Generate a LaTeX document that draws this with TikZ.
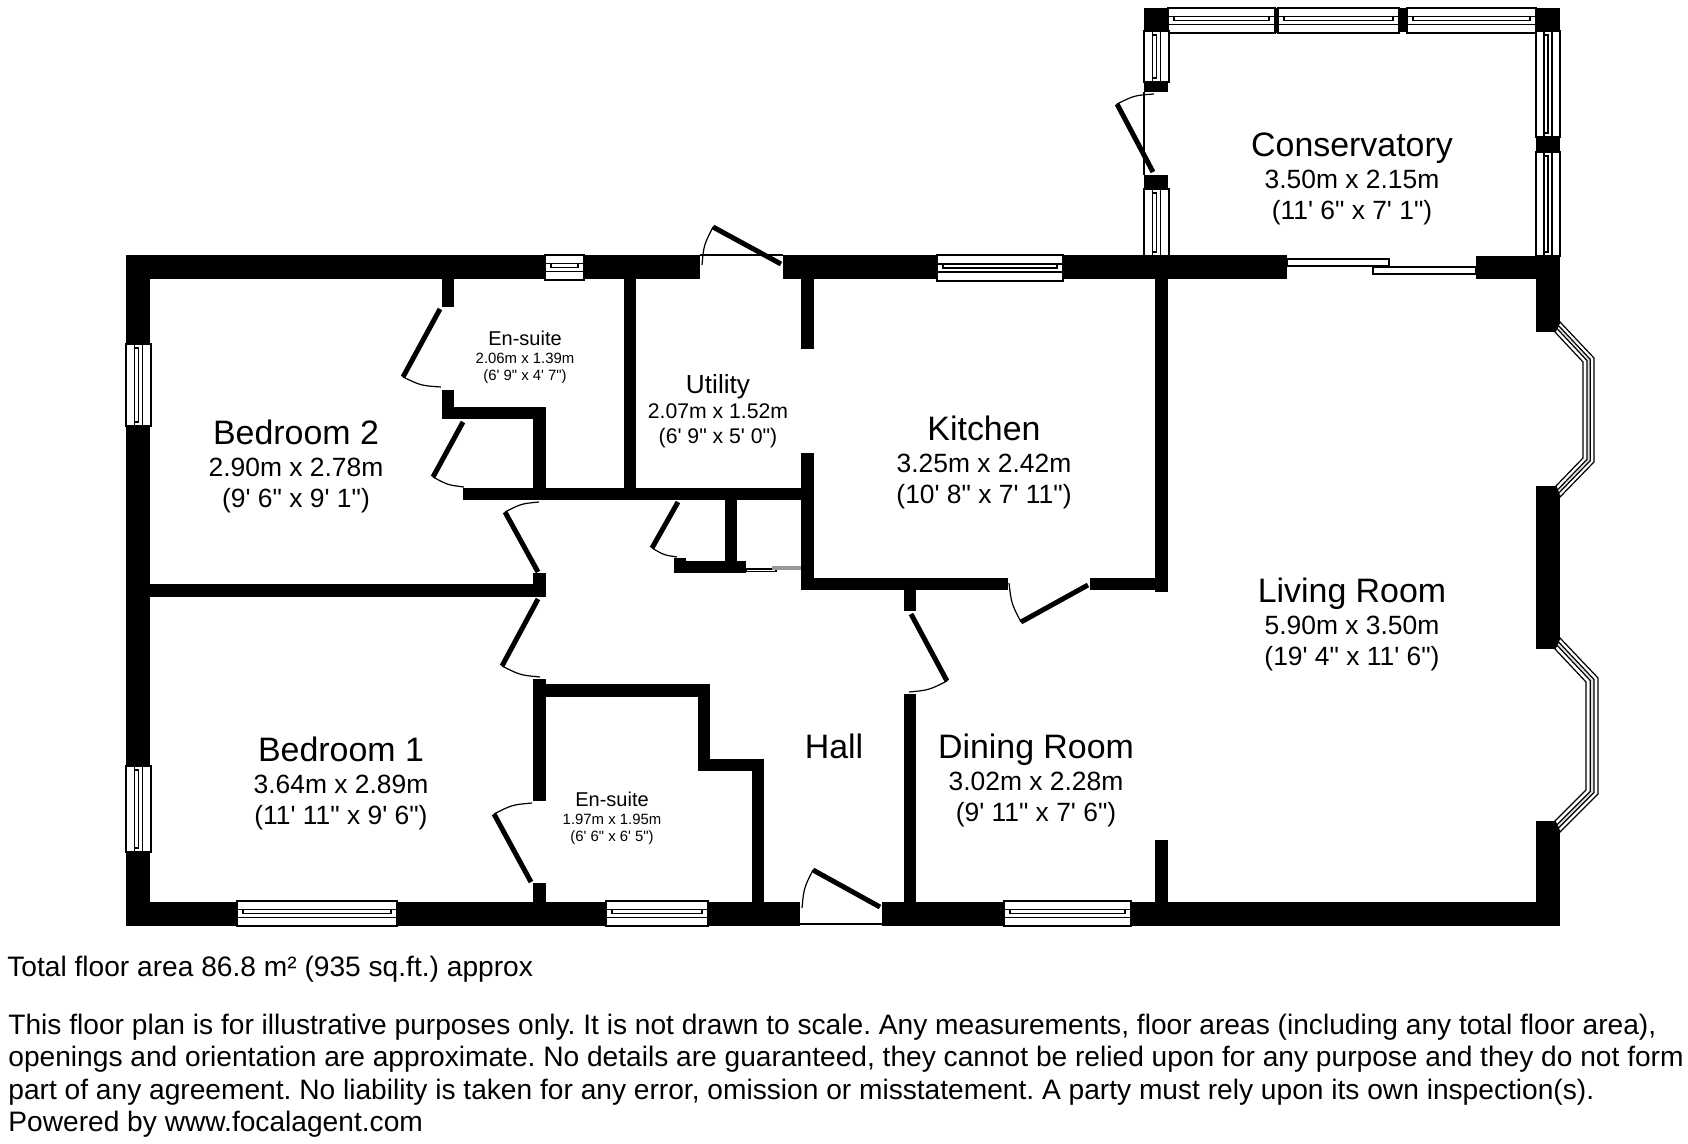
\documentclass[tikz,border=0pt]{standalone}
\usepackage{fontspec}
\usetikzlibrary{calc}
\newfontfamily\planfont{Liberation Sans}
\frenchspacing

\tikzset{
    wallfill/.style={fill=black},
    pane/.style={draw=black,fill=white,line width=.6pt},
    doorleaf/.style={draw=black,line width=2.5pt},
    doorarc/.style={draw=black,line width=.6pt},
    roomtext/.style={inner sep=0pt,anchor=base,font=\planfont\fontsize{#1}{#1}\selectfont},
    footnote/.style={inner sep=0pt,anchor=base west,font=\planfont\fontsize{14.07}{14.07}\selectfont}
}

\newcommand{\hwindow}[4]{
    \pgfmathsetmacro\wmid{(#3+#4)/2}
    \draw[pane] (#1,#3) rectangle (#2,#4);
    \draw[pane] (#1,\wmid-4) rectangle (#2,\wmid+4);
    \draw[pane] (#1+6,\wmid-4) rectangle (#2-6,\wmid);
}
\newcommand{\vwindow}[4]{
    \pgfmathsetmacro\wmid{(#1+#2)/2}
    \draw[pane] (#1,#3) rectangle (#2,#4);
    \draw[pane] (\wmid-4,#3) rectangle (\wmid+4,#4);
    \draw[pane] (\wmid-4,#3+4) rectangle (\wmid,#4-4);
}
\newcommand{\swingdoor}[3]{
    \draw[doorleaf] #1 -- #2;
    \coordinate (chord) at ($#2!.5!#3$);
    \draw[doorarc] #2 .. controls ($#1!1.05!(chord)$) .. #3;
}

\begin{document}
\begin{tikzpicture}[x=.5pt,y=-.5pt]
    \useasboundingbox (0,0) rectangle (1688,1144);

    % walls
    \foreach \xa/\ya/\xb/\yb in {
        126/255/700/279, 783/255/1287/279, 1476/256/1560/279,
        126/255/150/926, 126/902/800/926, 882/902/1560/926,
        1536/256/1560/332, 1536/486/1560/649, 1536/821/1560/926,
        442/279/454/307, 442/390/454/419, 442/407/546/419, 533/407/546/500,
        463/488/801/500, 150/584/546/597, 533/573/546/597,
        533/679/546/801, 546/684/710/697, 698/684/710/771, 698/759/764/771,
        752/759/764/902, 533/883/546/902,
        904/694/916/902, 904/590/916/611,
        801/279/814/349, 801/453/814/590, 801/578/1008/590, 1090/578/1168/590,
        1155/279/1168/592, 624/279/636/488, 1155/840/1168/902,
        725/500/737/561, 674/561/746/573, 674/558/686/561,
        1144/8/1168/31, 1536/8/1560/31, 1275/8/1278/33, 1399/8/1407/32,
        1144/82/1168/92, 1144/175/1168/189, 1536/137/1560/152}
        \fill[wallfill] (\xa,\ya) rectangle (\xb,\yb);

    % windows
    \hwindow{545}{584}{255}{280}
    \hwindow{937}{1063}{255}{281}
    \hwindow{237}{397}{901}{926}
    \hwindow{606}{708}{901}{926}
    \hwindow{1004}{1131}{901}{926}
    \hwindow{1168}{1275}{8}{33}
    \hwindow{1278}{1399}{8}{33}
    \hwindow{1407}{1536}{8}{33}
    \vwindow{126}{151}{344}{426}
    \vwindow{126}{151}{766}{852}
    \vwindow{1144}{1169}{31}{82}
    \vwindow{1144}{1169}{189}{256}
    \vwindow{1536}{1560}{31}{137}
    \vwindow{1536}{1560}{152}{256}

    % bay windows
    \coordinate (bayao) at (1560,322); \coordinate (bayai) at (1555,332);
    \coordinate (baybo) at (1594,358); \coordinate (baybi) at (1583,362);
    \coordinate (bayco) at (1594,462); \coordinate (bayci) at (1583,458);
    \coordinate (baydo) at (1560,497); \coordinate (baydi) at (1556,486);
    \draw[pane] (bayao) -- (baybo) -- (bayco) -- (baydo) -- (baydi) -- (bayci) -- (baybi) -- (bayai) -- cycle;
    \draw[pane,fill=black!12] ($(bayai)!.36!(bayao)$) -- ($(baybi)!.36!(baybo)$) -- ($(bayci)!.36!(bayco)$) -- ($(baydi)!.36!(baydo)$) -- ($(baydi)!.66!(baydo)$) -- ($(bayci)!.66!(bayco)$) -- ($(baybi)!.66!(baybo)$) -- ($(bayai)!.66!(bayao)$) -- cycle;

    \coordinate (baypo) at (1560,638); \coordinate (baypi) at (1555,649);
    \coordinate (bayqo) at (1598,678); \coordinate (bayqi) at (1586,682);
    \coordinate (bayro) at (1598,794); \coordinate (bayri) at (1586,790);
    \coordinate (bayso) at (1560,832); \coordinate (baysi) at (1555,821);
    \draw[pane] (baypo) -- (bayqo) -- (bayro) -- (bayso) -- (baysi) -- (bayri) -- (bayqi) -- (baypi) -- cycle;
    \draw[pane,fill=black!12] ($(baypi)!.36!(baypo)$) -- ($(bayqi)!.36!(bayqo)$) -- ($(bayri)!.36!(bayro)$) -- ($(baysi)!.36!(bayso)$) -- ($(baysi)!.66!(bayso)$) -- ($(bayri)!.66!(bayro)$) -- ($(bayqi)!.66!(bayqo)$) -- ($(baypi)!.66!(baypo)$) -- cycle;

    % sliding doors
    \draw[pane,line width=1.2pt] (1287,259) rectangle (1389,266);
    \draw[pane,line width=1.2pt] (1373,267) rectangle (1476,274);
    \draw[pane] (746,569) rectangle (776,571.5);
    \fill[black!40] (772,566) rectangle (801,569.7);

    % door swings
    \swingdoor{(440,309)}{(403,377)}{(441,387)}
    \swingdoor{(463,422)}{(433,477)}{(464,487)}
    \swingdoor{(538,572)}{(505,512)}{(539,502)}
    \swingdoor{(538,599)}{(502,666)}{(540,677)}
    \swingdoor{(531,882)}{(494,814)}{(532,803)}
    \swingdoor{(678,502)}{(652,548)}{(677,557)}
    \swingdoor{(781,264)}{(713,227)}{(702,265)}
    \swingdoor{(880,907)}{(813,870)}{(802,908)}
    \swingdoor{(911,614)}{(947,681)}{(909,692)}
    \swingdoor{(1088,585)}{(1021,622)}{(1009,583)}
    \swingdoor{(1153,172)}{(1117,104)}{(1154,94)}
    \draw[doorarc] (700,255) -- (783,255);
    \draw[doorarc] (800,924) -- (882,924);
    \draw[doorarc] (1144,92) -- (1144,175);

    % room labels
    \foreach \rid/\rx/\ry/\rname/\rdim/\rfeet in {
        cons/1352/157/Conservatory/3.50m x 2.15m/(11' 6" x 7' 1"),
        bedtwo/296/445/Bedroom 2/2.90m x 2.78m/(9' 6" x 9' 1"),
        bedone/341/761/Bedroom 1/3.64m x 2.89m/(11' 11" x 9' 6"),
        kitchen/984/441/Kitchen/3.25m x 2.42m/(10' 8" x 7' 11"),
        living/1352/603/Living Room/5.90m x 3.50m/(19' 4" x 11' 6"),
        dining/1036/758/Dining Room/3.02m x 2.28m/(9' 11" x 7' 6")} {
        \node[roomtext=16.95] (\rid-name) at (\rx,\ry) {\rname};
        \node[roomtext=13.2] (\rid-dim) at (\rx,\ry+32) {\rdim};
        \node[roomtext=13.2] (\rid-feet) at (\rx,\ry+63) {\rfeet};
    }
    \node[roomtext=16.95] (hall-name) at (834,758) {Hall};

    \node[roomtext=13.1] (utility-name) at (718,394) {Utility};
    \node[roomtext=10.6] (utility-dim) at (718,419) {2.07m x 1.52m};
    \node[roomtext=10.6] (utility-feet) at (718,444) {(6' 9" x 5' 0")};

    \foreach \rid/\rx/\ry/\rdim/\rfeet in {
        ensuitetop/525/346/2.06m x 1.39m/(6' 9" x 4' 7"),
        ensuitelow/612/806/1.97m x 1.95m/(6' 6" x 6' 5")} {
        \node[roomtext=10] (\rid-name) at (\rx,\ry) {En-suite};
        \node[roomtext=7.45] (\rid-dim) at (\rx,\ry+18) {\rdim};
        \node[roomtext=7.45] (\rid-feet) at (\rx,\ry+35) {\rfeet};
    }

    % notes under the plan
    \node[footnote] (total) at (7,976) {Total floor area 86.8 m² (935 sq.ft.) approx};
    \node[footnote] (notea) at (8,1034) {This floor plan is for illustrative purposes only. It is not drawn to scale. Any measurements, floor areas (including any total floor area),};
    \node[footnote] (noteb) at (8,1066) {openings and orientation are approximate. No details are guaranteed, they cannot be relied upon for any purpose and they do not form};
    \node[footnote] (notec) at (8,1099) {part of any agreement. No liability is taken for any error, omission or misstatement. A party must rely upon its own inspection(s).};
    \node[footnote] (noted) at (8,1131) {Powered by www.focalagent.com};
\end{tikzpicture}
\end{document}
